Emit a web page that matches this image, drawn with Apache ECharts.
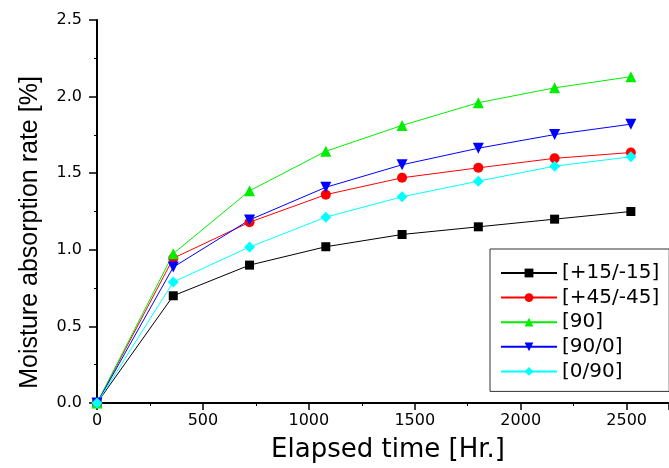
<!DOCTYPE html>
<html>
<head>
<meta charset="utf-8">
<script src="https://cdn.jsdelivr.net/npm/echarts@6/dist/echarts.min.js"></script>
<style>
html,body{margin:0;padding:0;background:#fff;}
#chart{width:669px;height:468px;}
</style>
</head>
<body>
<div id="chart"></div>
<script>
const times = [0, 360, 720, 1080, 1440, 1800, 2160, 2520];
const s15 = [0, 0.70, 0.90, 1.02, 1.10, 1.15, 1.20, 1.25];
const s45 = [0, 0.945, 1.18, 1.36, 1.47, 1.535, 1.597, 1.635];
const s90 = [0, 0.975, 1.385, 1.643, 1.812, 1.96, 2.057, 2.13];
const s900 = [0, 0.887, 1.195, 1.408, 1.555, 1.663, 1.752, 1.82];
const s090 = [0, 0.79, 1.018, 1.213, 1.346, 1.448, 1.546, 1.607];
const seriesNames = ['[+15/-15]', '[+45/-45]', '[90]', '[90/0]', '[0/90]'];
const yTicks = [0.0, 0.5, 1.0, 1.5, 2.0, 2.5];

const chart = echarts.init(document.getElementById('chart'));
const pair = arr => times.map((t, i) => [t, arr[i]]);
const mk = (name, arr, color, symbol, size, rotate) => ({
  name, type: 'line', data: pair(arr), color,
  symbol, symbolSize: size, symbolRotate: rotate || 0,
  lineStyle: { color, width: 1 },
  itemStyle: { color },
  emphasis: { disabled: true },
  clip: true
});
chart.setOption({
  animation: false,
  backgroundColor: '#fff',
  grid: { left: 97, right: 0, top: 20, bottom: 64 },
  legend: {
    orient: 'vertical', left: 490, top: 249,
    padding: [14, 10, 10, 10],
    itemWidth: 56, itemHeight: 11, itemGap: 4.6,
    borderColor: '#333', borderWidth: 1,
    textStyle: { fontFamily: 'DejaVu Sans', fontSize: 20, color: '#000', lineHeight: 20 },
    data: seriesNames
  },
  xAxis: {
    type: 'value', min: 0, max: 2700, interval: 500,
    name: 'Elapsed time [Hr.]', nameLocation: 'middle', nameGap: 34,
    nameTextStyle: { fontFamily: 'DejaVu Sans', fontSize: 26, color: '#000', padding: [0, 0, 0, 10] },
    axisLine: { lineStyle: { color: '#000', width: 2 } },
    axisTick: { inside: false, length: 7, lineStyle: { color: '#000', width: 1.5 } },
    minorTick: { show: true, splitNumber: 2, length: 3, lineStyle: { color: '#000', width: 1 } },
    axisLabel: { fontFamily: 'DejaVu Sans', fontSize: 16, color: '#000', margin: 10, showMaxLabel: false,
      formatter: v => String(Math.round(v)) },
    splitLine: { show: false }
  },
  yAxis: {
    type: 'value', min: 0, max: 2.5, interval: 0.5,
    name: 'Moisture absorption rate [%]', nameLocation: 'middle', nameGap: 54,
    nameTextStyle: { fontFamily: 'Liberation Sans', fontSize: 25, color: '#000', padding: [0, 42, 0, 0] },
    axisLine: { show: true, lineStyle: { color: '#000', width: 2 } },
    axisTick: { show: true, inside: false, length: 8, lineStyle: { color: '#000', width: 1.5 } },
    minorTick: { show: true, splitNumber: 2, length: 3, lineStyle: { color: '#000', width: 1 } },
    axisLabel: { fontFamily: 'DejaVu Sans', fontSize: 16, color: '#000', margin: 15,
      formatter: v => { const t = yTicks.find(x => Math.abs(x - v) < 1e-9); return (t !== undefined ? t : v).toFixed(1); } },
    splitLine: { show: false }
  },
  series: [
    mk(seriesNames[0], s15, '#000000', 'rect', 9),
    mk(seriesNames[1], s45, '#ff0000', 'circle', 10),
    mk(seriesNames[2], s90, '#00ee00', 'triangle', 11),
    mk(seriesNames[3], s900, '#0000ff', 'triangle', 11, 180),
    mk(seriesNames[4], s090, '#00ffff', 'diamond', 11)
  ]
});
</script>
</body>
</html>
